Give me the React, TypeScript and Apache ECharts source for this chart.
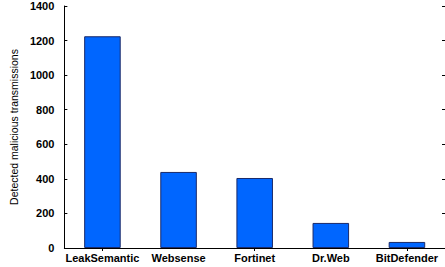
import React, { useEffect, useRef } from "react";
import * as echarts from "echarts";

const categories = ["LeakSemantic", "Websense", "Fortinet", "Dr.Web", "BitDefender"];
const values = [1225, 440, 405, 145, 35];
const yTicks = [0, 200, 400, 600, 800, 1000, 1200, 1400];

export default function App() {
  const ref = useRef<HTMLDivElement>(null);
  useEffect(() => {
    if (!ref.current) return;
    const chart = echarts.init(ref.current, null, { renderer: "svg" });
    const font = "Liberation Sans, Arial, sans-serif";
    const axisLine = { show: true, lineStyle: { color: "#000", width: 1 } };
    chart.setOption({
      animation: false,
      backgroundColor: "#fff",
      grid: { left: 63, right: -1, top: 6, bottom: 19, containLabel: false },
      xAxis: [
        {
          type: "category",
          data: categories,
          position: "bottom",
          axisLine,
          axisTick: { show: true, inside: true, alignWithLabel: true, length: 3, lineStyle: { color: "#000" } },
          axisLabel: { color: "#000", fontFamily: font, fontWeight: "bold", fontSize: 11, margin: 4, interval: 0 },
        },
        {
          type: "category",
          data: categories,
          position: "top",
          axisLine,
          axisTick: { show: true, inside: true, alignWithLabel: true, length: 3, lineStyle: { color: "#000" } },
          axisLabel: { show: false },
        },
      ],
      yAxis: [
        {
          type: "value",
          min: 0,
          max: 1400,
          interval: 200,
          position: "left",
          name: "Detected malicious transmissions",
          nameLocation: "middle",
          nameGap: 39,
          nameTextStyle: { color: "#000", fontFamily: font, fontSize: 10.5 },
          axisLine,
          axisTick: { show: true, inside: true, length: 3, lineStyle: { color: "#000" } },
          axisLabel: {
            color: "#000",
            fontFamily: font,
            fontWeight: "bold",
            fontSize: 11,
            margin: 10,
            formatter: (v: number) => (yTicks.includes(v) ? String(v) : ""),
          },
          splitLine: { show: false },
        },
        {
          type: "value",
          min: 0,
          max: 1400,
          interval: 200,
          position: "right",
          axisLine,
          axisTick: { show: true, inside: true, length: 3, lineStyle: { color: "#000" } },
          axisLabel: { show: false },
          splitLine: { show: false },
        },
      ],
      series: [
        {
          type: "bar",
          data: values,
          xAxisIndex: 0,
          yAxisIndex: 0,
          barWidth: "48%",
          itemStyle: { color: "#0066ff", borderColor: "#1a2a6a", borderWidth: 1 },
        },
      ],
    });
    return () => chart.dispose();
  }, []);
  return (
    <div
      ref={ref}
      style={{ position: "fixed", left: 0, top: 0, width: 445, height: 267 }}
    />
  );
}
